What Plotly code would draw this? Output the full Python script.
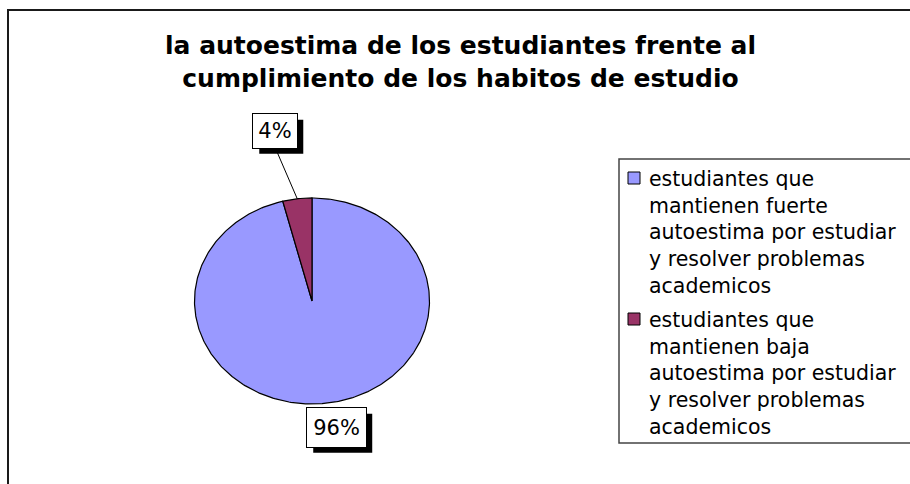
import numpy as np
import plotly.graph_objects as go

# ---- data ----
categories = [
    "estudiantes que<br>mantienen fuerte<br>autoestima por estudiar<br>y resolver problemas<br>academicos",
    "estudiantes que<br>mantienen baja<br>autoestima por estudiar<br>y resolver problemas<br>academicos",
]
values = [96, 4]
labels = ["96%", "4%"]
colors = ["#9999FF", "#993366"]
title_text = "la autoestima de los estudiantes frente al<br>cumplimiento de los habitos de estudio"

# ---- geometry (pixel-like axis space) ----
W, H = 910, 484
cx, cy = 312, 301
rx, ry = 117.5, 103
FONT = "DejaVu Sans, Liberation Sans, Arial"

fig = go.Figure()

total = float(sum(values))
start = 0.0
mids = []
for v, c in zip(values, colors):
    f0 = start / total
    f1 = (start + v) / total
    start += v
    # clockwise from 12 o'clock
    t = np.linspace(f0, f1, max(int(400 * (f1 - f0)), 8))
    ang = np.pi / 2 - 2 * np.pi * t
    xs = np.concatenate([[cx], cx + rx * np.cos(ang), [cx]])
    ys = np.concatenate([[cy], cy - ry * np.sin(ang), [cy]])
    fig.add_trace(go.Scatter(x=xs, y=ys, mode="lines", fill="toself",
                             fillcolor=c, line=dict(color="black", width=1.2),
                             showlegend=False, hoverinfo="skip"))
    mids.append(np.pi / 2 - 2 * np.pi * (f0 + f1) / 2)

annotations = []
shapes = []

# outer frame
shapes.append(dict(type="rect", xref="x", yref="y", x0=8, y0=10, x1=W + 10, y1=H + 10,
                   line=dict(color="#1a1a1a", width=2), fillcolor="rgba(0,0,0,0)"))

# data labels
label_offsets = [(10, 24), (-22, -68)]
box_sizes = [(59, 39), (44, 34)]
for lab, m, (dx, dy), (bw, bh) in zip(labels, mids, label_offsets, box_sizes):
    ex = cx + rx * np.cos(m)
    ey = cy - ry * np.sin(m)
    lx, ly = ex + dx, ey + dy
    if abs(dy) > 40:
        shapes.append(dict(type="line", xref="x", yref="y", x0=ex, y0=ey,
                           x1=lx, y1=ly + bh / 2, line=dict(color="black", width=1)))
    # shadow
    shapes.append(dict(type="rect", xref="x", yref="y",
                       x0=lx - bw / 2 + 6, x1=lx + bw / 2 + 6,
                       y0=ly - bh / 2 + 6, y1=ly + bh / 2 + 6,
                       line=dict(width=0), fillcolor="black", layer="above"))
    annotations.append(dict(x=lx, y=ly, xref="x", yref="y", text=lab, showarrow=False,
                            width=bw, height=bh,
                            font=dict(family=FONT, size=21, color="black"),
                            bgcolor="white", bordercolor="black", borderwidth=1, borderpad=0))

# legend (manual)
lg_x0, lg_y0, lg_y1 = 619, 159, 443
shapes.append(dict(type="rect", xref="x", yref="y", x0=lg_x0, y0=lg_y0, x1=W + 20, y1=lg_y1,
                   line=dict(color="#444444", width=1.5), fillcolor="white", layer="below"))
item_tops = [165, 306]
for name, c, top in zip(categories, colors, item_tops):
    shapes.append(dict(type="rect", xref="x", yref="y", x0=628, y0=top + 7, x1=640, y1=top + 19,
                       line=dict(color="black", width=1), fillcolor=c))
    annotations.append(dict(x=647, y=top, xref="x", yref="y", text=name, showarrow=False,
                            xanchor="left", yanchor="top", align="left",
                            font=dict(family=FONT, size=20.5, color="black")))

# title
annotations.append(dict(x=460, y=29, xref="x", yref="y", text="<b>" + title_text.replace("<br>", "</b><br><b>") + "</b>",
                        showarrow=False, xanchor="center", yanchor="top", align="center",
                        font=dict(family=FONT, size=25, color="black")))

fig.update_layout(
    width=W, height=H, margin=dict(l=0, r=0, t=0, b=0),
    paper_bgcolor="white", plot_bgcolor="white",
    xaxis=dict(range=[0, W], visible=False, domain=[0, 1], fixedrange=True),
    yaxis=dict(range=[H, 0], visible=False, domain=[0, 1], fixedrange=True),
    shapes=shapes, annotations=annotations, showlegend=False,
)
fig.write_html("out.html", config={"displayModeBar": False},
               post_script="document.body.style.margin='0px';document.body.style.overflow='hidden';")
